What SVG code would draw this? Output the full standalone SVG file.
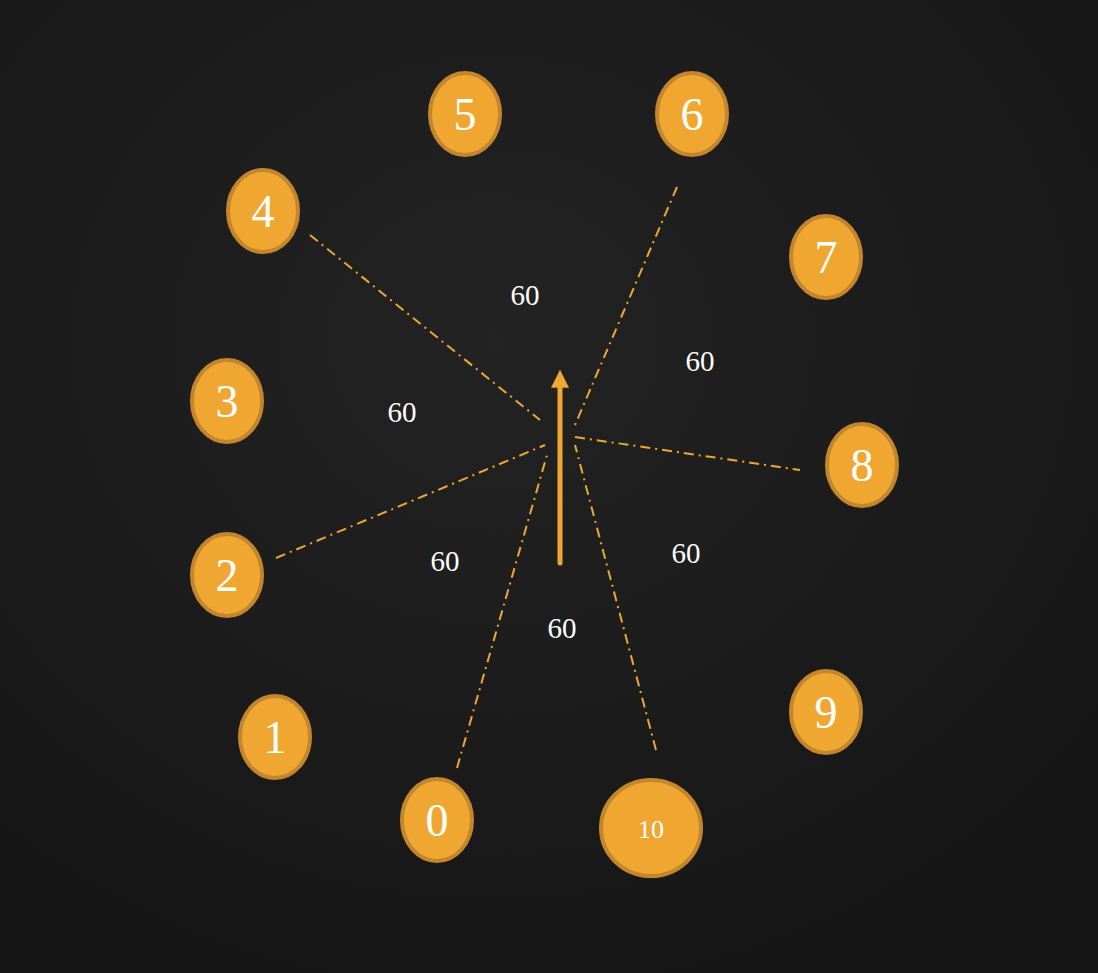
<svg xmlns="http://www.w3.org/2000/svg" width="1098" height="973" viewBox="0 0 1098 973">
<defs>
<radialGradient id="bg" cx="45%" cy="35%" r="75%">
<stop offset="0" stop-color="#232323"/>
<stop offset="1" stop-color="#151515"/>
</radialGradient>
<marker id="ah" viewBox="0 0 10 10" refX="1" refY="5" markerWidth="3.6" markerHeight="3.6" orient="auto" markerUnits="strokeWidth">
<path d="M0,0 L10,5 L0,10 z" fill="#f0a732"/>
</marker>
<style>
.n ellipse{fill:#f0a732;stroke:#c3862c;stroke-width:4}
.n text{fill:#ffffff;font-family:"Liberation Serif","DejaVu Serif",serif;font-size:46px;text-anchor:middle}
.c{stroke:#f0a732;stroke-width:2;stroke-dasharray:10,5,2,5;fill:none}
.lbl{fill:#ffffff;font-family:"Liberation Serif","DejaVu Serif",serif;font-size:29px;text-anchor:middle}
</style>
</defs>
<rect width="1098" height="973" fill="url(#bg)"/>
<g id="connectors">
<line class="c" x1="310" y1="235" x2="540" y2="420"/>
<line class="c" x1="677" y1="187" x2="575" y2="425"/>
<line class="c" x1="575" y1="437" x2="800" y2="470"/>
<line class="c" x1="276" y1="558" x2="545" y2="445"/>
<line class="c" x1="457" y1="768" x2="547" y2="455"/>
<line class="c" x1="656" y1="750" x2="575" y2="445"/>
<line x1="560" y1="563" x2="560" y2="386" stroke="#f0a732" stroke-width="5" stroke-linecap="round" marker-end="url(#ah)"/>
</g>
<g id="labels">
<text class="lbl" x="525" y="305">60</text>
<text class="lbl" x="700" y="371">60</text>
<text class="lbl" x="402" y="422">60</text>
<text class="lbl" x="445" y="571">60</text>
<text class="lbl" x="686" y="563">60</text>
<text class="lbl" x="562" y="638">60</text>
</g>
<g id="n5" class="n"><ellipse cx="465" cy="114" rx="35" ry="41"/><text x="465" y="130">5</text></g>
<g id="n6" class="n"><ellipse cx="692" cy="114" rx="35" ry="41"/><text x="692" y="130">6</text></g>
<g id="n4" class="n"><ellipse cx="263" cy="211" rx="35" ry="41"/><text x="263" y="227">4</text></g>
<g id="n7" class="n"><ellipse cx="826" cy="257" rx="35" ry="41"/><text x="826" y="273">7</text></g>
<g id="n3" class="n"><ellipse cx="227" cy="401" rx="35" ry="41"/><text x="227" y="417">3</text></g>
<g id="n8" class="n"><ellipse cx="862" cy="465" rx="35" ry="41"/><text x="862" y="481">8</text></g>
<g id="n2" class="n"><ellipse cx="227" cy="575" rx="35" ry="41"/><text x="227" y="591">2</text></g>
<g id="n1" class="n"><ellipse cx="275" cy="737" rx="35" ry="41"/><text x="275" y="753">1</text></g>
<g id="n9" class="n"><ellipse cx="826" cy="712" rx="35" ry="41"/><text x="826" y="728">9</text></g>
<g id="n0" class="n"><ellipse cx="437" cy="820" rx="35" ry="41"/><text x="437" y="836">0</text></g>
<g id="n10" class="n"><ellipse cx="651" cy="828" rx="50" ry="48"/><text x="651" y="838" style="font-size:26px">10</text></g>
</svg>
